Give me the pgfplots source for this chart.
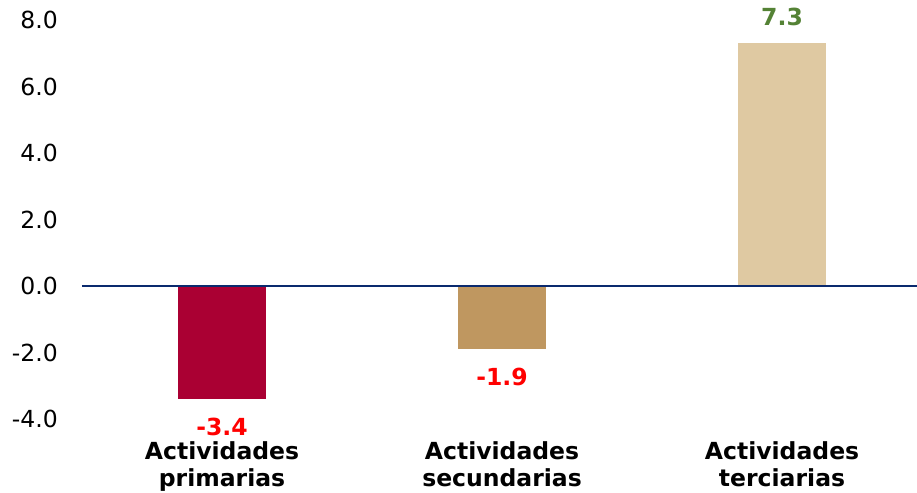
\documentclass[border=0pt]{standalone}
\usepackage{pgfplots}
\pgfplotsset{compat=1.18}
\usepackage{fontspec}
\setmainfont{DejaVu Sans}
\definecolor{cprim}{HTML}{AA0033}
\definecolor{csec}{HTML}{BF9760}
\definecolor{cter}{HTML}{DFC9A2}
\definecolor{cgreen}{HTML}{548235}
\definecolor{cnavy}{HTML}{0A2A6E}
\newcommand{\chfont}{\fontsize{23.5}{27.5}\selectfont}
\begin{document}
\begin{tikzpicture}
\path[use as bounding box] (-82pt,-73pt) rectangle (835pt,419pt);
\begin{axis}[
  at={(0pt,0pt)}, anchor=south west,
  scale only axis, width=835pt, height=399pt,
  xmin=-0.5, xmax=2.482, ymin=-4, ymax=8,
  clip=false,
  ytick={-4,-2,0,2,4,6,8},
  xtick={0,1,2},
  xticklabels={Actividades\\primarias, Actividades\\secundarias, Actividades\\terciarias},
  xticklabel style={align=center, font=\chfont\bfseries, inner sep=0pt, anchor=north, yshift=-22pt},
  yticklabel style={font=\chfont, inner sep=0pt, anchor=east, xshift=-24pt},
  axis line style={draw=none},
  major tick length=0pt,
  tick style={draw=none},
  ybar, bar width=88pt, bar shift=0pt,
  /pgf/number format/.cd, fixed, fixed zerofill, precision=1, assume math mode=true,
]
\addplot[fill=cprim, draw=none, nodes near coords,
  every node near coord/.append style={text=red, font=\chfont\bfseries, inner sep=0pt, anchor=north, yshift=-19pt}]
  coordinates {(0,-3.4)};
\addplot[fill=csec, draw=none, nodes near coords,
  every node near coord/.append style={text=red, font=\chfont\bfseries, inner sep=0pt, anchor=north, yshift=-19pt}]
  coordinates {(1,-1.9)};
\addplot[fill=cter, draw=none, nodes near coords,
  every node near coord/.append style={text=cgreen, font=\chfont\bfseries, inner sep=0pt, anchor=south, yshift=17pt}]
  coordinates {(2,7.3)};
\draw[cnavy, line width=2pt] (axis cs:-0.5,0) -- (axis cs:2.482,0);
\end{axis}
\end{tikzpicture}
\end{document}
